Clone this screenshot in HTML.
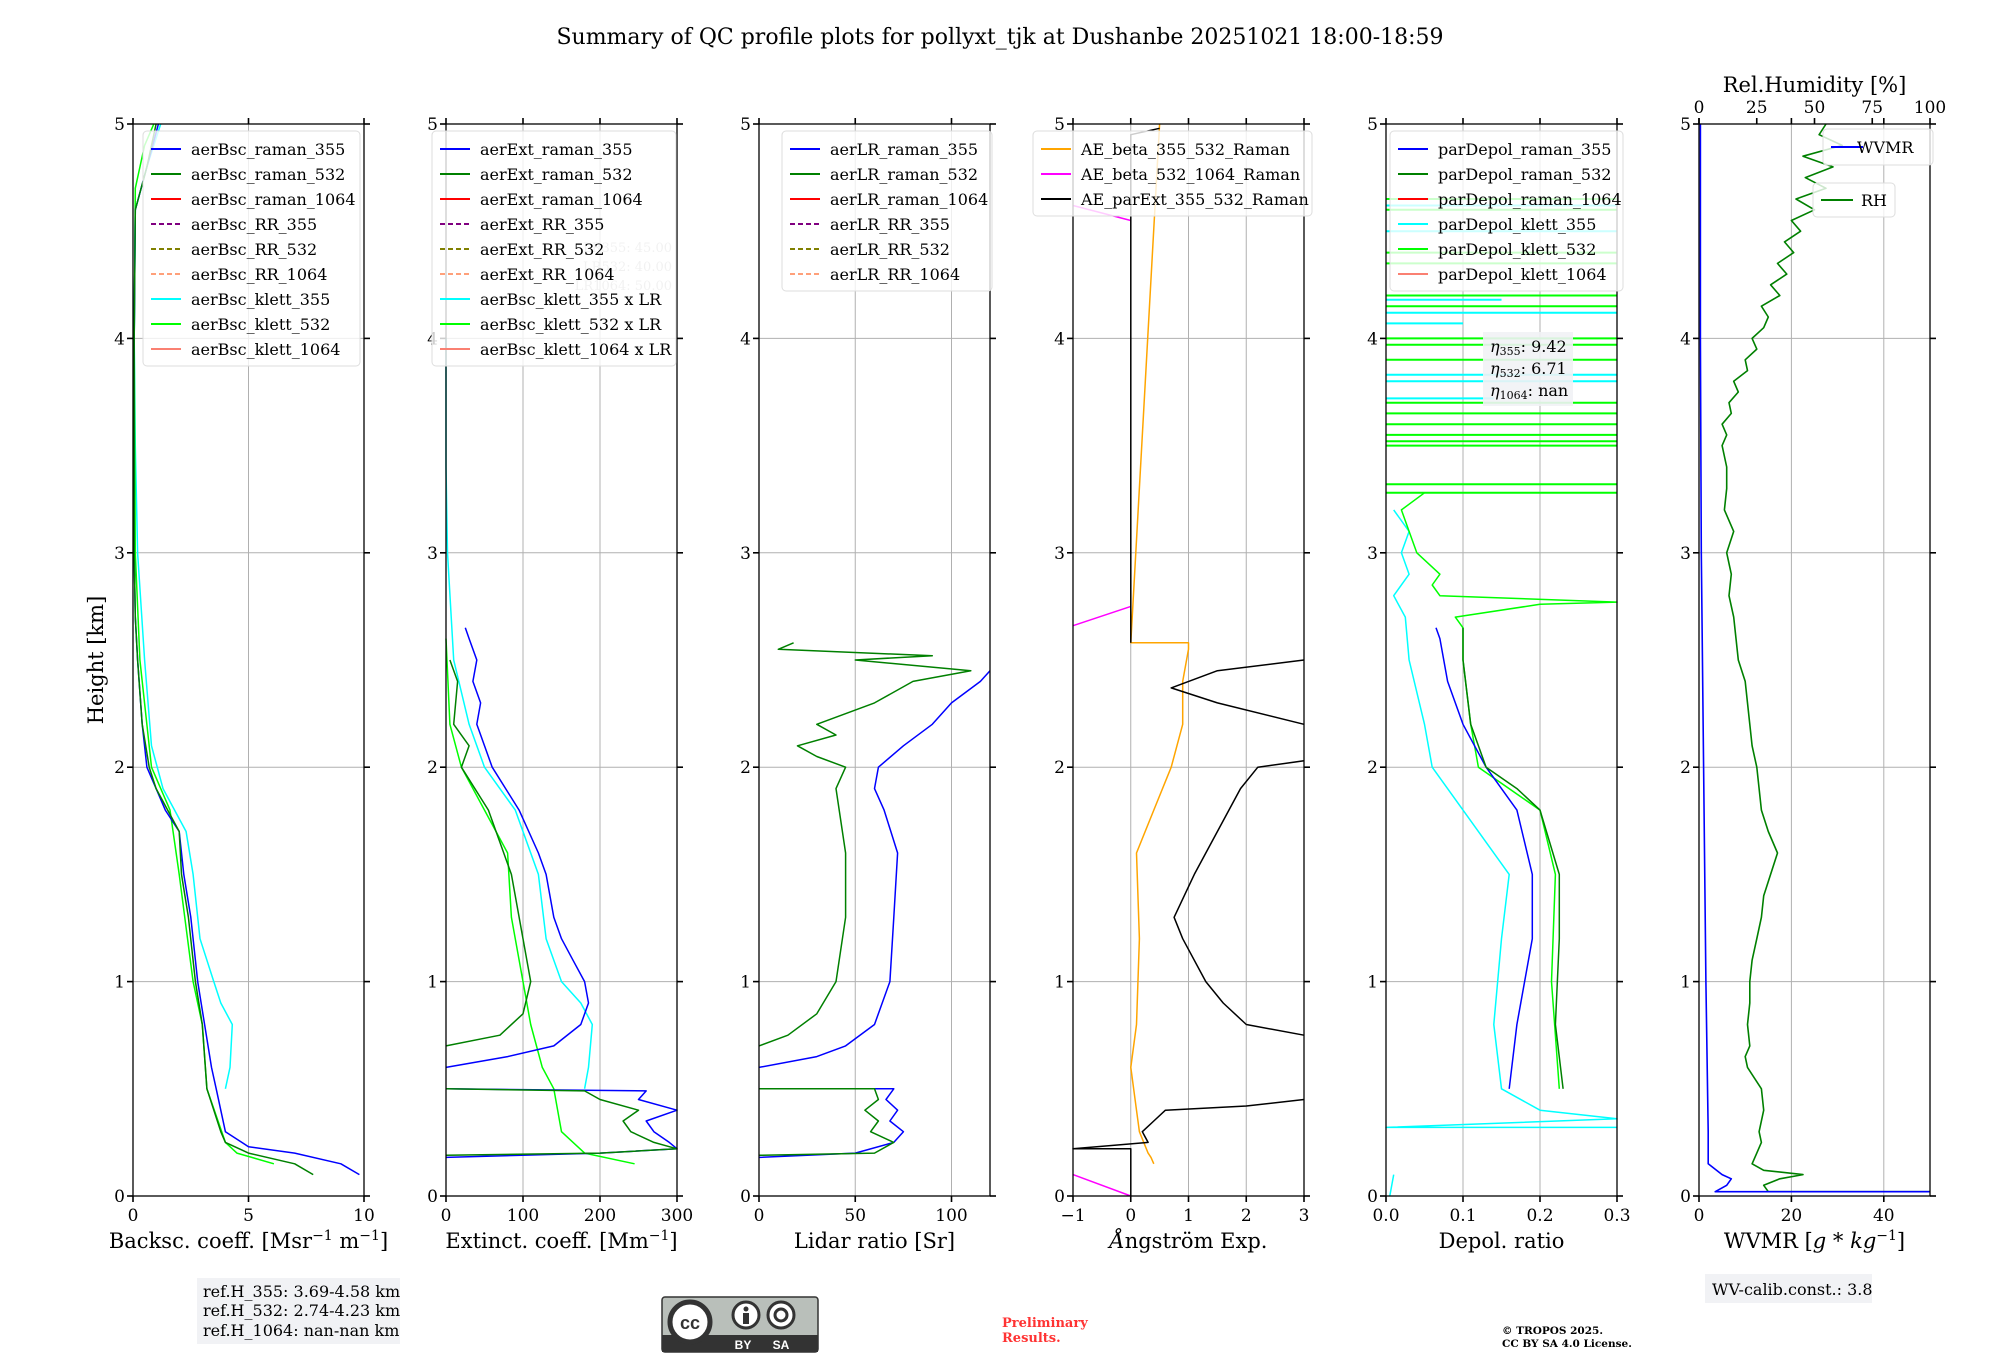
<!DOCTYPE html>
<html><head><meta charset="utf-8"><title>QC profiles</title>
<style>
html,body{margin:0;padding:0;background:#fff;}
svg{display:block;font-family:"DejaVu Serif","Liberation Serif",serif;}
</style></head>
<body>
<svg id="fig" width="2000" height="1360" viewBox="0 0 2000 1360" xmlns="http://www.w3.org/2000/svg">
<text x="1000" y="44" text-anchor="middle" font-size="22">Summary of QC profile plots for pollyxt_tjk at Dushanbe 20251021 18:00-18:59</text>
<text transform="translate(103,660) rotate(-90)" text-anchor="middle" font-size="21">Height [km]</text>
<g>
<rect x="197" y="1278" width="203" height="66" fill="#f1f2f5"/>
<text x="203" y="1297" font-size="16">ref.H_355: 3.69-4.58 km</text>
<text x="203" y="1316" font-size="16">ref.H_532: 2.74-4.23 km</text>
<text x="203" y="1336" font-size="16">ref.H_1064: nan-nan km</text>
</g>
<g>
<rect x="1705" y="1274" width="167" height="29" fill="#f1f2f5"/>
<text x="1712" y="1295" font-size="16">WV-calib.const.: 3.8</text>
</g>
<g>
<rect x="662" y="1297" width="156" height="55" rx="3" fill="#b9bfba" stroke="#333" stroke-width="1.5"/>
<rect x="662" y="1335" width="156" height="17" fill="#333"/>
<circle cx="690" cy="1322" r="20" fill="#fff" stroke="#333" stroke-width="5"/>
<text x="690" y="1329" text-anchor="middle" font-family="Liberation Sans,sans-serif" font-weight="bold" font-size="18" fill="#333">cc</text>
<circle cx="746" cy="1315" r="13" fill="#fff" stroke="#333" stroke-width="3"/>
<rect x="743" y="1313" width="6" height="11" fill="#333"/><circle cx="746" cy="1309" r="2.5" fill="#333"/>
<circle cx="781" cy="1315" r="13" fill="#fff" stroke="#333" stroke-width="3"/>
<circle cx="781" cy="1315" r="6" fill="none" stroke="#333" stroke-width="3"/>
<text x="743" y="1349" text-anchor="middle" font-family="Liberation Sans,sans-serif" font-weight="bold" font-size="12" fill="#fff">BY</text>
<text x="781" y="1349" text-anchor="middle" font-family="Liberation Sans,sans-serif" font-weight="bold" font-size="12" fill="#fff">SA</text>
</g>
<text x="1002" y="1327" font-size="13" font-weight="bold" fill="#f33">Preliminary</text>
<text x="1002" y="1342" font-size="13" font-weight="bold" fill="#f33">Results.</text>
<text x="1502" y="1334" font-size="10.5" font-weight="bold">© TROPOS 2025.</text>
<text x="1502" y="1347" font-size="10.5" font-weight="bold">CC BY SA 4.0 License.</text>
</svg>
<script>
// ---------- data ----------
const yTicks=[0,1,2,3,4,5];
// Panel 1 backscatter
const bscH355=[0.1,0.15,0.2,0.23,0.3,0.5,0.6,0.8,1.0,1.3,1.5,1.7,1.8,1.9,2.0,2.2,2.5,2.7,3.0,4.0,4.6,4.8,5.0];
const bscV355=[9.8,9,7,5,4,3.6,3.4,3.1,2.8,2.5,2.2,2.0,1.4,1.0,0.6,0.4,0.2,0.1,0.05,0.05,0.1,0.6,1.1];
const bscH532=[0.1,0.15,0.2,0.25,0.3,0.5,0.8,1.0,1.3,1.5,1.7,1.9,2.0,2.2,2.5,2.7,3.0,4.0,4.6,4.8,5.0];
const bscV532=[7.8,7,5,4,3.8,3.2,3.0,2.7,2.4,2.1,2.0,1.0,0.7,0.4,0.2,0.1,0.05,0.05,0.1,0.6,1.0];
const bscHk355=[0.5,0.6,0.8,0.9,1.0,1.2,1.5,1.7,1.9,2.1,2.5,3.0,3.5,4.0,4.6,4.8,5.0];
const bscVk355=[4.0,4.2,4.3,3.8,3.5,2.9,2.6,2.3,1.3,0.8,0.5,0.2,0.1,0.05,0.1,0.6,1.2];
const bscHk532=[0.15,0.2,0.25,0.5,0.8,1.0,1.5,1.8,2.0,2.5,3.0,4.0,4.7,4.9,5.0];
const bscVk532=[6.1,4.5,4.0,3.2,3.0,2.6,2.0,1.6,0.8,0.3,0.1,0.05,0.1,0.5,0.9];
// Panel 2 extinction
const extH355=[0.18,0.2,0.22,0.25,0.3,0.35,0.4,0.45,0.49,0.5,null,0.6,0.65,0.7,0.8,0.9,1.0,1.1,1.2,1.3,1.5,1.6,1.8,2.0,2.1,2.2,2.3,2.4,2.5,2.6,2.65];
const extV355=[0,200,300,290,270,260,300,250,260,0,null,0,80,140,175,185,180,165,150,140,130,120,95,60,50,40,45,35,40,30,25];
const extH532=[0.19,0.2,0.22,0.25,0.3,0.35,0.4,0.45,0.49,0.5,null,0.7,0.75,0.85,1.0,1.2,1.5,1.8,2.0,2.1,2.2,2.4,2.5];
const extV532=[0,200,300,270,240,230,250,200,180,0,null,0,70,100,110,100,85,55,20,30,10,15,5];
const extHk355=[0.5,0.6,0.8,0.9,1.0,1.2,1.5,1.8,2.0,2.2,2.5,3.0,3.4,4.0];
const extVk355=[180,185,190,175,150,130,120,90,50,30,10,2,0,0];
const extHk532=[0.15,0.2,0.3,0.5,0.6,0.8,1.0,1.3,1.6,1.8,2.0,2.2,2.6];
const extVk532=[245,180,150,140,125,110,100,85,80,50,20,5,0];
// Panel 3 lidar ratio
const lrH355=[0.18,0.2,0.25,0.3,0.35,0.4,0.45,0.5,0.5,null,0.6,0.65,0.7,0.8,1.0,1.3,1.6,1.8,1.9,2.0,2.1,2.2,2.3,2.4,2.45];
const lrV355=[0,50,70,75,68,72,66,70,0,null,0,30,45,60,68,70,72,65,60,62,75,90,100,115,120];
const lrH532=[0.19,0.2,0.25,0.3,0.35,0.4,0.45,0.5,0.5,null,0.7,0.75,0.85,1.0,1.3,1.6,1.9,2.0,2.05,2.1,2.15,2.2,2.3,2.4,2.45,2.5,2.52,2.55,2.58];
const lrV532=[0,60,70,58,62,55,62,60,0,null,0,15,30,40,45,45,40,45,30,20,40,30,60,80,110,50,90,10,18];
// Panel 4 Angstrom
const aeH1=[0.15,0.18,0.2,0.3,0.4,0.6,0.8,1.2,1.6,1.8,2.0,2.2,2.4,2.55,2.58,2.58,5.0];
const aeV1=[0.4,0.35,0.3,0.15,0.1,0,0.1,0.15,0.1,0.4,0.7,0.9,0.9,1.0,1.0,0,0.5];
const aeH2=[0,0.1,null,2.66,2.75,null,4.55,4.62];
const aeV2=[0,-1,null,-1,0,null,0,-1];
const aeH3=[0,0.22,0.22,0.25,0.3,0.35,0.4,0.42,0.45,null,0.75,0.8,0.9,1.0,1.2,1.3,1.5,1.7,1.9,2.0,2.03,null,2.2,2.3,2.37,2.45,2.5,null,2.58,4.95,4.98];
const aeV3=[0,0,-1,0.3,0.2,0.4,0.6,2,3,null,3,2,1.6,1.3,0.9,0.75,1.1,1.5,1.9,2.2,3,null,3,1.5,0.7,1.5,3,null,0,0,0.5];
// Panel 5 depolarization
const dpH355=[0.5,0.8,1.2,1.5,1.8,2.0,2.2,2.4,2.6,2.65];
const dpV355=[0.16,0.17,0.19,0.19,0.17,0.13,0.1,0.08,0.07,0.065];
const dpH532=[0.5,0.8,1.2,1.5,1.8,1.9,2.0,2.2,2.5,2.65];
const dpV532=[0.23,0.22,0.225,0.225,0.2,0.17,0.13,0.11,0.1,0.1];
const dpHk355=[0,0.1,null,0.32,0.32,0.36,0.4,0.5,0.8,1.2,1.5,1.8,2.0,2.2,2.5,2.7,2.8,2.9,3.0,3.1,3.2];
const dpVk355=[0.005,0.01,null,0.3,0,0.3,0.2,0.15,0.14,0.15,0.16,0.1,0.06,0.05,0.03,0.025,0.01,0.03,0.02,0.03,0.01];
const dpHk532=[0.5,1.0,1.5,1.8,2.0,2.2,2.5,2.65,2.7,2.76,2.77,2.8,2.85,2.9,3.0,3.1,3.2,3.28];
const dpVk532=[0.225,0.215,0.22,0.2,0.12,0.11,0.1,0.1,0.09,0.2,0.3,0.07,0.06,0.07,0.04,0.03,0.02,0.05];
const spikeHk532=[3.28,3.32,3.5,3.52,3.55,3.6,3.65,3.7,3.9,3.97,4.0,4.15,4.2,4.35,4.4,4.6,4.65];
const spikeVk532=[0.3,0.3,0.3,0.3,0.3,0.3,0.3,0.3,0.3,0.3,0.3,0.3,0.3,0.3,0.3,0.3,0.3];
const spikeHk355=[3.72,3.8,3.83,4.07,4.12,4.18,4.5,4.62];
const spikeVk355=[0.14,0.3,0.3,0.1,0.3,0.15,0.3,0.3];
// Panel 6 water vapour
const wvH=[0.02,0.02,0.05,0.08,0.1,0.15,0.3,1.0,2.0,3.0,4.0,5.0];
const wvV=[50,3.5,6,7,5,2,2,1.5,1,0.5,0.3,0.3];
const rhH=[0.02,0.02,0.05,0.08,0.1,0.12,0.15,0.2,0.25,0.3,0.4,0.5,0.55,0.6,0.65,0.7,0.8,0.9,1.0,1.1,1.2,1.3,1.4,1.5,1.6,1.7,1.8,1.9,2.0,2.1,2.2,2.3,2.4,2.5,2.6,2.7,2.8,2.9,3.0,3.1,3.2,3.3,3.4,3.5,3.55,3.6,3.65,3.7,3.75,3.8,3.85,3.9,3.95,4.0,4.05,4.1,4.15,4.2,4.25,4.3,4.35,4.4,4.45,4.5,4.55,4.6,4.65,4.7,4.75,4.8,4.85,4.9,4.95,5.0];
const rhV=[100,30,28,35,45,28,23,25,27,26,28,27,24,21,20,22,21,22,22,23,25,27,28,31,34,30,27,26,25,23,22,21,20,17,16,15,13,14,12,15,11,12,12,10,12,10,14,13,17,15,21,20,25,23,28,30,27,35,31,38,34,41,37,44,40,50,42,55,46,58,45,62,52,55];
// ---------- layout ----------
const svg=document.getElementById('fig');
const NS='http://www.w3.org/2000/svg';
const TOP=124,BOT=1196,W=231;
const lefts=[133,446,759,1073,1386,1699];
function mk(tag,attrs,parent){const e=document.createElementNS(NS,tag);for(const k in attrs)e.setAttribute(k,attrs[k]);(parent||svg).appendChild(e);return e;}
function sy(h){return BOT-(h/5)*(BOT-TOP);}
function scaleX(p,min,max){return v=>lefts[p]+(v-min)/(max-min)*W;}
function line(g,sx,H,V,color,wd,name){
  let d='',pen=false;
  for(let i=0;i<H.length;i++){
    if(H[i]===null||V[i]===null){pen=false;continue;}
    d+=(pen?'L':'M')+sx(V[i]).toFixed(1)+','+sy(H[i]).toFixed(1);pen=true;
  }
  const p=mk('path',{d:d,fill:'none',stroke:color,'stroke-width':wd||1.6,'stroke-linejoin':'round'},g);
  
  
  return p;
}
function panel(p,min,max,ticks,xlabel,name){
  const g=mk('g',{});
  
  
  const sx=scaleX(p,min,max);
  const L=lefts[p],R=L+W;
  ticks.forEach(t=>{const x=sx(t);
    if(t!==min&&t!==max){const gl=mk('line',{x1:x,x2:x,y1:TOP,y2:BOT,stroke:'#b0b0b0','stroke-width':1},g);
      }
    mk('line',{x1:x,x2:x,y1:BOT,y2:BOT+6,stroke:'#000','stroke-width':1.6},g);
    mk('line',{x1:x,x2:x,y1:TOP,y2:TOP-6,stroke:'#000','stroke-width':1.6},g);
    const tl=mk('text',{x:x,y:BOT+25,'text-anchor':'middle','font-size':17},g);
    tl.textContent=(t<0?'\u2212'+(-t):String(t));
    
  });
  yTicks.forEach(t=>{const y=sy(t);
    if(t>0&&t<5){const gl=mk('line',{x1:L,x2:R,y1:y,y2:y,stroke:'#b0b0b0','stroke-width':1},g);
      }
    mk('line',{x1:L-6,x2:L,y1:y,y2:y,stroke:'#000','stroke-width':1.6},g);
    mk('line',{x1:R,x2:R+6,y1:y,y2:y,stroke:'#000','stroke-width':1.6},g);
    const tl=mk('text',{x:L-8,y:y+6,'text-anchor':'end','font-size':17},g);
    tl.textContent=String(t);
    
  });
  const xl=mk('text',{x:L+W/2,y:1248,'text-anchor':'middle','font-size':21},g);
  xl.innerHTML=xlabel;
  
  return {g:g,sx:sx,L:L,R:R};
}
function frame(P){const f=mk('rect',{x:P.L,y:TOP,width:W,height:BOT-TOP,fill:'none',stroke:'#000','stroke-width':1.3},P.g);
  }
function legend(x,y,w,entries,name,fs){
  const g=mk('g',{});
  
  
  const rh=25;
  mk('rect',{x:x,y:y,width:w,height:entries.length*rh+10,rx:4,fill:'#fff','fill-opacity':0.8,stroke:'#ddd'},g);
  entries.forEach((e,i)=>{const cy=y+18+i*rh;
    mk('line',{x1:x+8,x2:x+38,y1:cy,y2:cy,stroke:e[1],'stroke-width':2,'stroke-dasharray':e[2]?'5,3':'none'},g);
    const t=mk('text',{x:x+48,y:cy+6,'font-size':fs||16},g);t.textContent=e[0];
    
  });
}
const BLUE='#0000ff',GREEN='#008000',CYAN='#00ffff',LIME='#00ff00';
// Panel 1
let P=panel(0,0,10,[0,5,10],'Backsc. coeff. [Msr<tspan dy="-8" font-size="14">\u22121</tspan><tspan dy="8"> m</tspan><tspan dy="-8" font-size="14">\u22121</tspan><tspan dy="8">]</tspan>','backscatter-panel');
line(P.g,P.sx,bscHk355,bscVk355,CYAN,1.5,'aerBsc-klett-355-line');
line(P.g,P.sx,bscHk532,bscVk532,LIME,1.5,'aerBsc-klett-532-line');
line(P.g,P.sx,bscH355,bscV355,BLUE,1.5,'aerBsc-raman-355-line');
line(P.g,P.sx,bscH532,bscV532,GREEN,1.5,'aerBsc-raman-532-line');
frame(P);
legend(143,131,217,[['aerBsc_raman_355',BLUE],['aerBsc_raman_532',GREEN],['aerBsc_raman_1064','#f00'],['aerBsc_RR_355','#800080',1],['aerBsc_RR_532','#808000',1],['aerBsc_RR_1064','#ffa07a',1],['aerBsc_klett_355',CYAN],['aerBsc_klett_532',LIME],['aerBsc_klett_1064','#fa8072']],'backscatter-legend');
// Panel 2
P=panel(1,0,300,[0,100,200,300],'Extinct. coeff. [Mm<tspan dy="-8" font-size="14">\u22121</tspan><tspan dy="8">]</tspan>','extinction-panel');
line(P.g,P.sx,extHk355,extVk355,CYAN,1.5,'aerBsc-klett-355-x-lr-line');
line(P.g,P.sx,extHk532,extVk532,LIME,1.5,'aerBsc-klett-532-x-lr-line');
line(P.g,P.sx,extH355,extV355,BLUE,1.5,'aerExt-raman-355-line');
line(P.g,P.sx,extH532,extV532,GREEN,1.5,'aerExt-raman-532-line');
frame(P);
['LR355: 45.00','LR532: 40.00','LR1064: 50.00'].forEach((s,i)=>{const t=mk('text',{x:672,y:252+i*19,'text-anchor':'end','font-size':13,fill:'#bbb'});t.textContent=s;
  });
legend(432,131,244,[['aerExt_raman_355',BLUE],['aerExt_raman_532',GREEN],['aerExt_raman_1064','#f00'],['aerExt_RR_355','#800080',1],['aerExt_RR_532','#808000',1],['aerExt_RR_1064','#ffa07a',1],['aerBsc_klett_355 x LR',CYAN],['aerBsc_klett_532 x LR',LIME],['aerBsc_klett_1064 x LR','#fa8072']],'extinction-legend');
// Panel 3
P=panel(2,0,120,[0,50,100],'Lidar ratio [Sr]','lidar-ratio-panel');
line(P.g,P.sx,lrH355,lrV355,BLUE,1.5,'aerLR-raman-355-line');
line(P.g,P.sx,lrH532,lrV532,GREEN,1.5,'aerLR-raman-532-line');
frame(P);
legend(782,131,210,[['aerLR_raman_355',BLUE],['aerLR_raman_532',GREEN],['aerLR_raman_1064','#f00'],['aerLR_RR_355','#800080',1],['aerLR_RR_532','#808000',1],['aerLR_RR_1064','#ffa07a',1]],'lidar-ratio-legend');
// Panel 4
P=panel(3,-1,3,[-1,0,1,2,3],'<tspan font-style="italic">Å</tspan>ngström Exp.','angstrom-panel');
line(P.g,P.sx,aeH1,aeV1,'#ffa500',1.5,'ae-beta-355-532-line');
line(P.g,P.sx,aeH2,aeV2,'#ff00ff',1.5,'ae-beta-532-1064-line');
line(P.g,P.sx,aeH3,aeV3,'#000',1.5,'ae-parext-355-532-line');
frame(P);
legend(1033,131,279,[['AE_beta_355_532_Raman','#ffa500'],['AE_beta_532_1064_Raman','#ff00ff'],['AE_parExt_355_532_Raman','#000']],'angstrom-legend');
// Panel 5
P=panel(4,0,0.3,[0,0.1,0.2,0.3],'Depol. ratio','depol-panel');
P.g.querySelectorAll('text').forEach(t=>{if(t.textContent==='0'&&Number(t.getAttribute('y'))>1210)t.textContent='0.0';});
line(P.g,P.sx,dpHk355,dpVk355,CYAN,1.5,'parDepol-klett-355-line');
line(P.g,P.sx,dpHk532,dpVk532,LIME,1.5,'parDepol-klett-532-line');
spikeHk532.forEach((h,i)=>{line(P.g,P.sx,[h,h],[0,spikeVk532[i]],LIME,2,'klett-532-spike');});
spikeHk355.forEach((h,i)=>{line(P.g,P.sx,[h,h],[0,spikeVk355[i]],CYAN,2,'klett-355-spike');});
line(P.g,P.sx,dpH355,dpV355,BLUE,1.5,'parDepol-raman-355-line');
line(P.g,P.sx,dpH532,dpV532,GREEN,1.5,'parDepol-raman-532-line');
frame(P);
legend(1390,131,233,[['parDepol_raman_355',BLUE],['parDepol_raman_532',GREEN],['parDepol_raman_1064','#f00'],['parDepol_klett_355',CYAN],['parDepol_klett_532',LIME],['parDepol_klett_1064','#fa8072']],'depol-legend');
const eg=mk('g',{});


mk('rect',{x:1483,y:332,width:90,height:74,fill:'#f1f2f5','fill-opacity':0.9},eg);
[['355','9.42'],['532','6.71'],['1064','nan']].forEach((a,i)=>{const t=mk('text',{x:1490,y:352+i*22,'font-size':16},eg);
  t.innerHTML='<tspan font-style="italic">η</tspan><tspan font-size="11" dy="3">'+a[0]+'</tspan><tspan dy="-3">: '+a[1]+'</tspan>';});
// Panel 6
P=panel(5,0,50,[0,20,40],'WVMR [<tspan font-style="italic">g</tspan> * <tspan font-style="italic">kg</tspan><tspan dy="-8" font-size="14">\u22121</tspan><tspan dy="8">]</tspan>','water-vapour-panel');
const sxRH=scaleX(5,0,100);
[0,25,50,75,100].forEach(t=>{const x=sxRH(t);
  mk('line',{x1:x,x2:x,y1:TOP,y2:TOP-6,stroke:'#000','stroke-width':1.6},P.g);
  const tl=mk('text',{x:x,y:TOP-11,'text-anchor':'middle','font-size':17},P.g);tl.textContent=String(t);
  });
const rt=mk('text',{x:lefts[5]+W/2,y:92,'text-anchor':'middle','font-size':21},P.g);
rt.textContent='Rel.Humidity [%]';


line(P.g,sxRH,rhH,rhV,GREEN,1.6,'rh-line');
line(P.g,P.sx,wvH,wvV,BLUE,1.6,'wvmr-line');
frame(P);
const wl=mk('g',{});


mk('rect',{x:1823,y:129,width:110,height:36,rx:4,fill:'#fff','fill-opacity':0.8,stroke:'#ddd'},wl);
mk('line',{x1:1831,x2:1863,y1:147,y2:147,stroke:BLUE,'stroke-width':2},wl);
mk('text',{x:1857,y:153,'font-size':16},wl).textContent='WVMR';
const rl=mk('g',{});


mk('rect',{x:1813,y:183,width:82,height:34,rx:4,fill:'#fff','fill-opacity':0.8,stroke:'#ddd'},rl);
mk('line',{x1:1821,x2:1853,y1:200,y2:200,stroke:GREEN,'stroke-width':2},rl);
mk('text',{x:1861,y:206,'font-size':16},rl).textContent='RH';
</script>
</body></html>
